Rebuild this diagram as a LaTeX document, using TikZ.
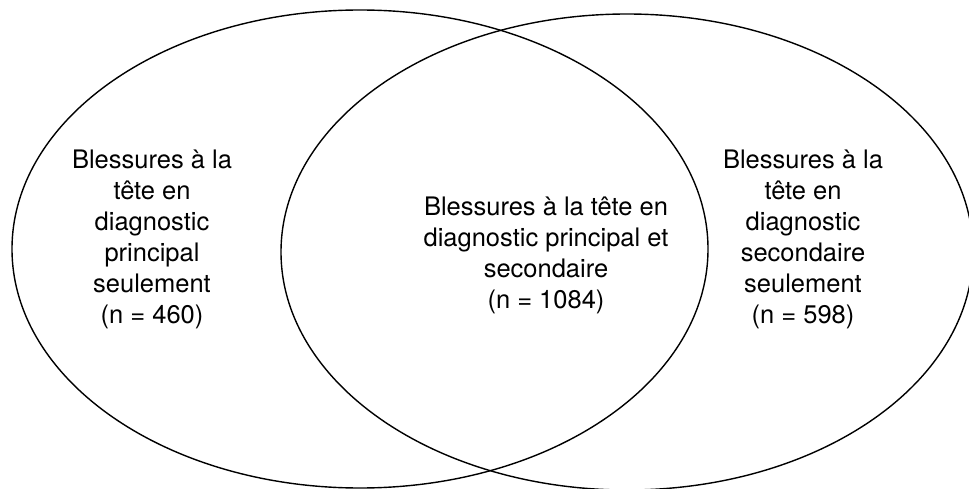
\documentclass[tikz,border=0pt]{standalone}
\usepackage{fontspec}
\setmainfont{TeX Gyre Heros}

\begin{document}
\begin{tikzpicture}[x=1pt, y=-1pt, line width=1.4pt]
  \tikzset{label/.style={align=center, font=\fontsize{25.5}{31}\selectfont, inner sep=0pt}}
  \useasboundingbox (0,0) rectangle (969,489);
  \clip (0,0) rectangle (969,489);

  \coordinate (L) at (360,249);
  \coordinate (R) at (627,252);

  % les deux ensembles
  \draw (L) ellipse [x radius=348, y radius=239];
  \draw (R) ellipse [x radius=346, y radius=238];

  \node[label] (gauche) at (152,239) {Blessures à la\\tête en\\diagnostic\\principal\\seulement\\(n = 460)};
  \node[label] (milieu) at (546,255) {Blessures à la tête en\\diagnostic principal et\\secondaire\\(n = 1084)};
  \node[label] (droite) at (803,239) {Blessures à la\\tête en\\diagnostic\\secondaire\\seulement\\(n = 598)};
\end{tikzpicture}
\end{document}
